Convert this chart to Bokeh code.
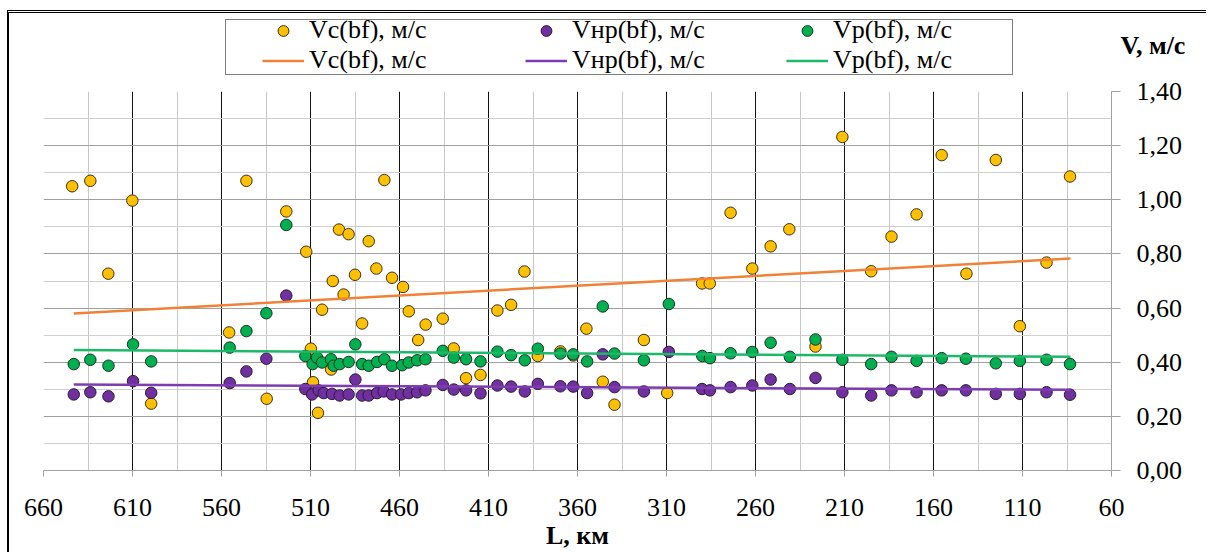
from bokeh.plotting import figure
from bokeh.layouts import column
from bokeh.models import (Range1d, FixedTicker, Legend, LegendItem,
                          CustomJSTickFormatter)
from bokeh.embed import file_html
from bokeh.resources import INLINE

# ---------------- data ----------------
L_vc = [643.9, 633.7, 623.6, 610.1, 599.5, 555.7, 546.0, 534.6, 523.6, 512.4,
        509.8, 508.6, 505.8, 503.5, 498.4, 497.5, 494.0, 491.4, 488.6, 485.0,
        481.0, 477.3, 473.0, 468.5, 464.2, 458.0, 454.8, 449.5, 445.3, 435.7,
        429.5, 422.6, 414.5, 405.0, 397.3, 389.8, 382.3, 369.6, 362.4, 355.0,
        345.8, 339.2, 322.7, 309.6, 290.0, 285.7, 274.0, 261.8, 251.5, 241.0,
        226.3, 211.2, 195.0, 183.6, 169.5, 155.4, 141.5, 125.0, 111.5, 96.5, 83.3]
V_vc = [1.05, 1.07, 0.727, 0.997, 0.247, 0.51, 1.07, 0.265, 0.957, 0.808,
        0.45, 0.326, 0.213, 0.594, 0.373, 0.70, 0.89, 0.65, 0.873, 0.723,
        0.543, 0.847, 0.746, 1.073, 0.712, 0.678, 0.588, 0.482, 0.539, 0.561,
        0.451, 0.341, 0.353, 0.591, 0.612, 0.735, 0.423, 0.44, 0.425, 0.524,
        0.328, 0.243, 0.482, 0.286, 0.691, 0.691, 0.952, 0.746, 0.828, 0.891,
        0.458, 1.232, 0.736, 0.864, 0.946, 1.165, 0.727, 1.147, 0.533, 0.768, 1.086]

L_vnr = [643.0, 633.7, 623.5, 609.7, 599.5, 555.4, 546.0, 534.8, 523.6, 512.9,
         509.1, 505.4, 502.6, 497.9, 493.6, 488.6, 484.8, 481.0, 477.3, 472.6,
         468.9, 464.2, 459.1, 454.8, 450.1, 445.4, 435.7, 429.5, 422.6, 414.5,
         405.0, 397.3, 389.6, 382.3, 369.6, 362.4, 354.6, 345.8, 339.2, 322.7,
         308.7, 290.0, 285.6, 274.0, 261.8, 251.5, 240.7, 226.3, 211.2, 195.0,
         183.6, 169.5, 155.4, 141.8, 125.0, 111.5, 96.5, 83.3]
V_vnr = [0.281, 0.289, 0.274, 0.33, 0.287, 0.323, 0.366, 0.413, 0.646, 0.301,
         0.281, 0.296, 0.286, 0.283, 0.277, 0.281, 0.336, 0.277, 0.277, 0.286,
         0.292, 0.281, 0.281, 0.286, 0.289, 0.296, 0.316, 0.299, 0.296, 0.285,
         0.314, 0.31, 0.292, 0.32, 0.311, 0.31, 0.286, 0.429, 0.308, 0.292,
         0.438, 0.301, 0.296, 0.308, 0.314, 0.336, 0.301, 0.342, 0.289, 0.277,
         0.296, 0.289, 0.296, 0.296, 0.283, 0.283, 0.289, 0.28]

L_vp = [643.0, 633.7, 623.5, 609.7, 599.5, 555.4, 546.0, 534.8, 523.6, 512.9,
        508.8, 506.3, 503.5, 498.5, 497.0, 493.6, 488.6, 484.8, 481.0, 477.3,
        472.6, 468.5, 464.2, 458.5, 454.8, 450.1, 445.4, 435.7, 429.5, 422.6,
        414.5, 405.0, 397.3, 389.6, 382.3, 369.6, 362.4, 354.6, 345.8, 339.2,
        322.7, 308.7, 289.9, 285.6, 274.0, 261.8, 251.5, 240.7, 226.3, 211.2,
        195.0, 183.6, 169.5, 155.4, 141.8, 125.0, 111.5, 96.5, 83.3]
V_vp = [0.393, 0.409, 0.387, 0.466, 0.403, 0.454, 0.515, 0.581, 0.907, 0.423,
        0.393, 0.417, 0.399, 0.411, 0.387, 0.393, 0.401, 0.466, 0.393, 0.387,
        0.401, 0.411, 0.387, 0.389, 0.399, 0.407, 0.411, 0.442, 0.417, 0.411,
        0.403, 0.439, 0.426, 0.407, 0.45, 0.432, 0.429, 0.403, 0.606, 0.432,
        0.407, 0.615, 0.423, 0.415, 0.433, 0.438, 0.472, 0.42, 0.484, 0.409,
        0.393, 0.42, 0.405, 0.415, 0.413, 0.396, 0.405, 0.409, 0.393]

# linear trend lines (end points)
trend_L = [643.0, 83.0]
trend_vc = [0.580, 0.783]
trend_vnr = [0.318, 0.298]
trend_vp = [0.445, 0.420]

x_ticks = [60, 110, 160, 210, 260, 310, 360, 410, 460, 510, 560, 610, 660]
x_minor = [85, 135, 185, 235, 285, 335, 385, 435, 485, 535, 585, 635]
y_ticks = [0.0, 0.2, 0.4, 0.6, 0.8, 1.0, 1.2, 1.4]
y_minor = [0.1, 0.3, 0.5, 0.7, 0.9, 1.1, 1.3]

labels = ["Vс(bf), м/с", "Vнр(bf), м/с", "Vр(bf), м/с"]
x_title = "L, км"
y_title = "V, м/с"

FONT = "'Liberation Serif'"
C_VC, C_VNR, C_VP = "#FFC000", "#7030A0", "#00B050"
C_TVC, C_TVNR, C_TVP = "#F08237", "#7D3CB0", "#1DB868"
EDGE = ["#3A3020", "#2A1A35", "#1A3020"]
MK = dict(size=11.5, line_width=1)

W = 1197          # figure width (container adds 7px margin + 2px border on the left)
HEAD_H = 63       # header band (legend + y title)
MAIN_H = 476

series = [(L_vc, V_vc, C_VC, C_TVC, trend_vc, EDGE[0]),
          (L_vnr, V_vnr, C_VNR, C_TVNR, trend_vnr, EDGE[1]),
          (L_vp, V_vp, C_VP, C_TVP, trend_vp, EDGE[2])]

# ---------------- main figure ----------------
p = figure(width=W, height=MAIN_H, x_range=Range1d(660, 60), y_range=Range1d(0, 1.4),
           output_backend="svg", toolbar_location=None, y_axis_location="right",
           min_border_left=34, min_border_top=15, min_border_right=95,
           min_border_bottom=78)
p.outline_line_color = None

p.xaxis.ticker = FixedTicker(ticks=x_ticks, minor_ticks=x_minor)
p.xaxis.axis_line_color = "#A0A0A0"
p.xaxis.major_tick_line_color = "#A0A0A0"
p.xaxis.major_tick_out = 6
p.xaxis.major_tick_in = 0
p.xaxis.minor_tick_line_color = None
p.xaxis.major_label_standoff = 22
p.xaxis.major_label_text_font = FONT
p.xaxis.major_label_text_font_size = "26px"
p.xaxis.major_label_text_color = "black"
p.xaxis.axis_label = x_title
p.xaxis.axis_label_standoff = 2
p.xaxis.axis_label_text_font = FONT
p.xaxis.axis_label_text_font_style = "bold"
p.xaxis.axis_label_text_font_size = "26px"
p.xaxis.axis_label_text_color = "black"

p.yaxis.ticker = FixedTicker(ticks=y_ticks, minor_ticks=y_minor)
p.yaxis.formatter = CustomJSTickFormatter(code="return tick.toFixed(2).replace('.', ',');")
p.yaxis.axis_line_color = "#A0A0A0"
p.yaxis.major_tick_line_color = "#A0A0A0"
p.yaxis.major_tick_out = 9
p.yaxis.major_tick_in = 0
p.yaxis.minor_tick_line_color = None
p.yaxis.major_label_standoff = 16
p.yaxis.major_label_text_font = FONT
p.yaxis.major_label_text_font_size = "26px"
p.yaxis.major_label_text_color = "black"

p.xgrid.grid_line_color = "#111111"
p.xgrid.minor_grid_line_color = "#C8C8C8"
p.ygrid.grid_line_color = "#A0A0A0"
p.ygrid.minor_grid_line_color = "#CFCFCF"

for xs, ys, fc, lc, tr, edge in series:
    p.scatter(xs, ys, fill_color=fc, line_color=edge, **MK)
for xs, ys, fc, lc, tr, edge in series:
    p.line(trend_L, tr, line_color=lc, line_width=2.5)

# ---------------- header (legend + y title) ----------------
# same data drawn on a y-range where it is out of view; only used for legend glyphs
h = figure(width=W, height=HEAD_H, x_range=Range1d(660, 60), y_range=Range1d(5, 6),
           output_backend="svg", toolbar_location=None, x_axis_type=None,
           y_axis_location="right",
           min_border=0, min_border_left=0, min_border_right=0, min_border_top=0,
           min_border_bottom=0)
h.outline_line_color = None
h.grid.visible = False

# right axis of the header only carries the "V, м/с" title
h.yaxis.ticker = FixedTicker(ticks=[])
h.yaxis.bounds = (5.11, 6.0)
h.yaxis.axis_line_color = None
h.yaxis.major_tick_line_color = None
h.yaxis.minor_tick_line_color = None
h.yaxis.major_label_text_font_size = "0px"
h.yaxis.axis_label = y_title
h.yaxis.axis_label_orientation = "horizontal"
h.yaxis.axis_label_standoff = 9
h.yaxis.axis_label_text_font = FONT
h.yaxis.axis_label_text_font_style = "bold"
h.yaxis.axis_label_text_font_size = "26px"
h.yaxis.axis_label_text_color = "black"

ghost = h.scatter(L_vc, V_vc, alpha=0)
frame_leg = Legend(items=[LegendItem(label=" ", renderers=[ghost])],
                   location=(182, 1), padding=0, margin=0, spacing=0,
                   glyph_width=20, glyph_height=20, label_height=54,
                   label_width=766, label_standoff=0,
                   border_line_color="black", border_line_width=1.5,
                   background_fill_color="white", background_fill_alpha=1)
h.add_layout(frame_leg)

col_x = [219, 482, 743]
for cx, (xs, ys, fc, lc, tr, edge), lab in zip(col_x, series, labels):
    sr = h.scatter(xs, ys, fill_color=fc, line_color=edge, **MK)
    lr = h.line(trend_L, tr, line_color=lc, line_width=2.5)
    lg = Legend(items=[LegendItem(label=lab, renderers=[sr]),
                       LegendItem(label=lab, renderers=[lr])],
                location=(cx, 1), orientation="vertical",
                padding=0, margin=0, spacing=0,
                glyph_width=42, glyph_height=27, label_height=27,
                label_standoff=5,
                label_text_font=FONT, label_text_font_size="26px",
                label_text_color="black",
                border_line_color=None, background_fill_alpha=0)
    h.add_layout(lg)

layout = column(h, p, spacing=0)
layout.styles = {"margin-left": "7px", "margin-top": "10px",
                 "border-left": "2px solid #000", "border-top": "3px double #000"}

open("out.html", "w").write(file_html(layout, INLINE))
